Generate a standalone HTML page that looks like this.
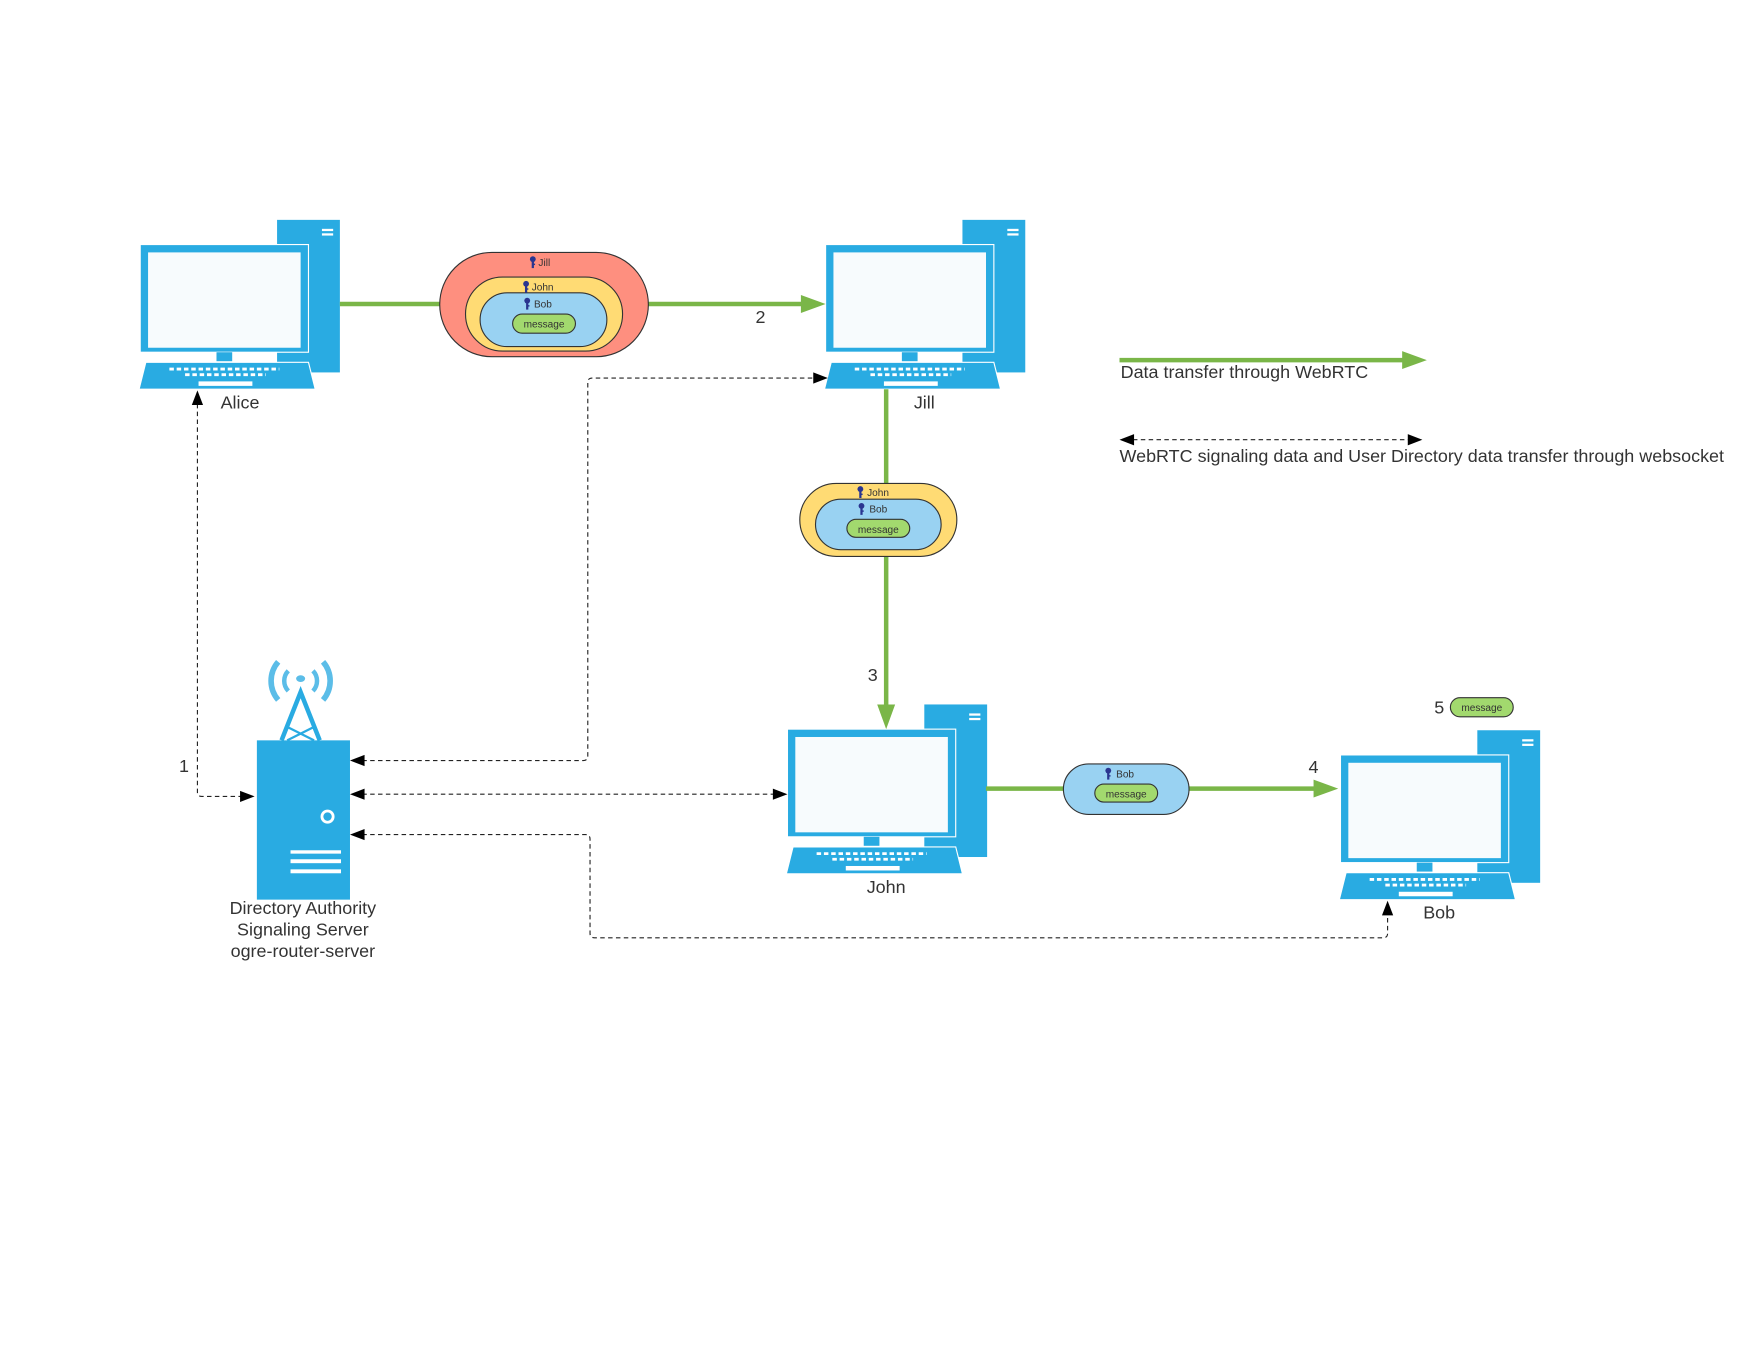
<!DOCTYPE html>
<html><head><meta charset="utf-8"><style>
html,body{margin:0;padding:0;background:#fff;width:1760px;height:1360px;overflow:hidden}
text{font-family:"Liberation Sans",sans-serif;fill:#333}
</style></head><body>
<svg width="1760" height="1360" viewBox="0 0 1569 1212.4" xmlns="http://www.w3.org/2000/svg">
<defs>
<g id="pc">
 <rect x="122" y="0" width="56" height="136" fill="#29abe2"/>
 <rect x="162" y="8" width="10" height="2" fill="#fff"/>
 <rect x="162" y="12" width="10" height="2" fill="#fff"/>
 <rect x="0" y="22" width="150" height="96" fill="#29abe2" stroke="#fff" stroke-width="1"/>
 <rect x="7" y="29" width="136" height="85" fill="#f7fbfd"/>
 <rect x="68" y="118" width="14" height="8" fill="#29abe2"/>
 <polygon points="5,127 150,127 156,151 -1,151" fill="#29abe2" stroke="#fff" stroke-width="1"/>
 <line x1="26" y1="133" x2="124" y2="133" stroke="#fff" stroke-width="2.5" stroke-dasharray="4,2.5"/>
 <line x1="40" y1="138" x2="112" y2="138" stroke="#fff" stroke-width="2.5" stroke-dasharray="4,2.5"/>
 <rect x="52" y="144" width="48" height="4" fill="#fff"/>
</g>
<g id="key"><circle cx="0" cy="0" r="2.6" fill="#2a3590"/><rect x="-1" y="0" width="2" height="8" fill="#2a3590"/><rect x="0" y="4" width="2" height="1.3" fill="#2a3590"/></g>
</defs>

<use href="#pc" x="125" y="196"/>
<use href="#pc" x="736" y="196"/>
<use href="#pc" x="702" y="628"/>
<use href="#pc" x="1195" y="651"/>
<text x="214" y="364" font-size="16" text-anchor="middle">Alice</text>
<text x="824" y="364" font-size="16" text-anchor="middle">Jill</text>
<text x="790" y="796" font-size="16" text-anchor="middle">John</text>
<text x="1283" y="819" font-size="16" text-anchor="middle">Bob</text>

<g>
 <path d="M248,590 A26,26 0 0 0 248,624" fill="none" stroke="#5bbde8" stroke-width="5"/>
 <path d="M288,590 A26,26 0 0 1 288,624" fill="none" stroke="#5bbde8" stroke-width="5"/>
 <path d="M257,598 A13,13 0 0 0 257,616" fill="none" stroke="#5bbde8" stroke-width="4"/>
 <path d="M279,598 A13,13 0 0 1 279,616" fill="none" stroke="#5bbde8" stroke-width="4"/>
 <ellipse cx="268" cy="605" rx="4" ry="3" fill="#5bbde8"/>
 <path d="M251,660 L268,617 L285,660" fill="none" stroke="#29abe2" stroke-width="4"/>
 <path d="M256,648 L280,660 M280,648 L256,660" stroke="#29abe2" stroke-width="2"/>
 <rect x="229" y="660" width="83" height="142" fill="#29abe2"/>
 <circle cx="292" cy="728" r="5" fill="none" stroke="#fff" stroke-width="2.5"/>
 <rect x="259" y="758" width="45" height="3" fill="#fff"/>
 <rect x="259" y="766" width="45" height="3.5" fill="#fff"/>
 <rect x="259" y="775" width="45" height="3.5" fill="#fff"/>
</g>
<text font-size="16" text-anchor="middle"><tspan x="270" y="815">Directory Authority</tspan><tspan x="270" y="834">Signaling Server</tspan><tspan x="270" y="853">ogre-router-server</tspan></text>

<g stroke="#7ab648" stroke-width="4" fill="none">
 <line x1="303" y1="271" x2="392" y2="271"/>
 <line x1="578" y1="271" x2="716" y2="271"/>
 <line x1="790" y1="347" x2="790" y2="431"/>
 <line x1="790" y1="496" x2="790" y2="630"/>
 <line x1="879" y1="703" x2="948" y2="703"/>
 <line x1="1060" y1="703" x2="1173" y2="703"/>
 <line x1="998" y1="321" x2="1252" y2="321"/>
</g>
<g fill="#7ab648">
 <polygon points="714,263 736,271 714,279"/>
 <polygon points="782,628 790,650 798,628"/>
 <polygon points="1171,695 1193,703 1171,711"/>
 <polygon points="1250,313 1272,321 1250,329"/>
</g>
<text x="678" y="288" font-size="16" text-anchor="middle">2</text>
<text x="778" y="607" font-size="16" text-anchor="middle">3</text>
<text x="1171" y="689" font-size="16" text-anchor="middle">4</text>
<text x="1283" y="636" font-size="16" text-anchor="middle">5</text>
<text x="164" y="688" font-size="16" text-anchor="middle">1</text>

<rect x="392" y="225" width="186" height="93" rx="46.5" fill="#fe8f7f" stroke="#333" stroke-width="1"/>
<rect x="415" y="247" width="140" height="66" rx="33" fill="#ffdb74" stroke="#333" stroke-width="1"/>
<rect x="428" y="261" width="113" height="48" rx="24" fill="#99d2f2" stroke="#333" stroke-width="1"/>
<rect x="457" y="280" width="56" height="17" rx="8.5" fill="#a2d96e" stroke="#333" stroke-width="1"/>
<text x="485" y="292" font-size="9" text-anchor="middle">message</text>
<use href="#key" x="475" y="231"/><text x="480" y="237" font-size="9">Jill</text>
<use href="#key" x="469" y="253"/><text x="474" y="259" font-size="9">John</text>
<use href="#key" x="470" y="268"/><text x="476" y="274" font-size="9">Bob</text>

<rect x="713" y="431" width="140" height="65" rx="32.5" fill="#ffdb74" stroke="#333" stroke-width="1"/>
<rect x="727" y="445" width="112" height="45" rx="22.5" fill="#99d2f2" stroke="#333" stroke-width="1"/>
<rect x="755" y="463" width="56" height="16" rx="8" fill="#a2d96e" stroke="#333" stroke-width="1"/>
<text x="783" y="475" font-size="9" text-anchor="middle">message</text>
<use href="#key" x="767" y="436"/><text x="773" y="442" font-size="9">John</text>
<use href="#key" x="768" y="451"/><text x="775" y="457" font-size="9">Bob</text>

<rect x="948" y="681" width="112" height="45" rx="22.5" fill="#99d2f2" stroke="#333" stroke-width="1"/>
<rect x="976" y="699" width="56" height="16" rx="8" fill="#a2d96e" stroke="#333" stroke-width="1"/>
<text x="1004" y="711" font-size="9" text-anchor="middle">message</text>
<use href="#key" x="988" y="687"/><text x="995" y="693" font-size="9">Bob</text>

<rect x="1293" y="622" width="56" height="17" rx="8.5" fill="#a2d96e" stroke="#333" stroke-width="1"/>
<text x="1321" y="634" font-size="9" text-anchor="middle">message</text>

<g stroke="#222" stroke-width="1" fill="none" stroke-dasharray="4,3">
 <path d="M176,360 L176,706 Q176,710 180,710 L216,710"/>
 <path d="M323,678 L520,678 Q524,678 524,674 L524,341 Q524,337 528,337 L726,337"/>
 <path d="M323,708 L690,708"/>
 <path d="M323,744 L522,744 Q526,744 526,748 L526,832 Q526,836 530,836 L1233,836 Q1237,836 1237,832 L1237,815"/>
 <path d="M1010,392 L1256,392"/>
</g>
<g fill="#000">
 <polygon points="171,361 176,348 181,361"/>
 <polygon points="214,705 227,710 214,715"/>
 <polygon points="325,673 312,678 325,683"/>
 <polygon points="725,332 738,337 725,342"/>
 <polygon points="325,703 312,708 325,713"/>
 <polygon points="689,703 702,708 689,713"/>
 <polygon points="325,739 312,744 325,749"/>
 <polygon points="1232,816 1237,803 1242,816"/>
 <polygon points="1011,387 998,392 1011,397"/>
 <polygon points="1255,387 1268,392 1255,397"/>
</g>

<text x="999" y="337" font-size="16">Data transfer through WebRTC</text>
<text x="998" y="412" font-size="16">WebRTC signaling data and User Directory data transfer through websocket</text>
</svg>
</body></html>
